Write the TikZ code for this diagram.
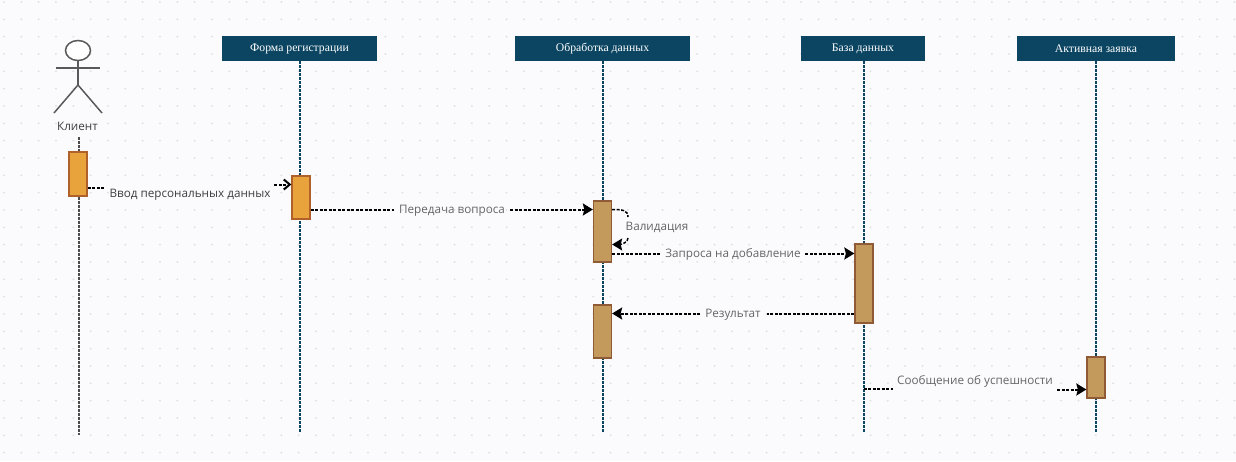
\documentclass[tikz,border=0pt]{standalone}
\usepackage{fontspec}
\setmainfont{Open Sans}
\newfontfamily\headfont{Liberation Serif}
\usetikzlibrary{arrows.meta,shapes.geometric}
\definecolor{bgc}{HTML}{FBFBFD}
\definecolor{dotc}{HTML}{DEDEE4}
\definecolor{headc}{HTML}{0B4562}
\definecolor{orc}{HTML}{E8A33D}
\definecolor{orb}{HTML}{B0602A}
\definecolor{brc}{HTML}{C49A5C}
\definecolor{brb}{HTML}{8F5B36}
\definecolor{txtc}{HTML}{666666}

\begin{document}
\begin{tikzpicture}[x=1pt,y=-1pt]
\tikzstyle{head}= [rectangle, inner sep=0pt, fill=headc, minimum height=25pt, text=white, font=\headfont\fontsize{11.7}{13}\selectfont]
\tikzstyle{act1}= [rectangle, inner sep=0pt, fill=orc, draw=orb, line width=1.3pt, minimum width=18pt]
\tikzstyle{act2}= [rectangle, inner sep=0pt, fill=brc, draw=brb, line width=1.3pt, minimum width=18pt]
\tikzstyle{lab}= [inner sep=0pt, text=txtc, font=\fontsize{11.7}{14}\selectfont]
\tikzstyle{lifeline}= [headc, line width=2pt, dash pattern=on 3pt off 1pt]
\tikzstyle{msg}= [black, line width=2pt, dash pattern=on 3pt off 1.5pt]
\tikzstyle{arr}= [-{Stealth[length=10pt,width=12pt,inset=1.5pt]}]
\tikzstyle{actorline}= [draw=black!65, line width=1.5pt]
\useasboundingbox (0,0) rectangle (1236,461);
\fill[bgc] (0,0) rectangle (1236,461);
%grid
\foreach \i in {0,...,71}
  \foreach \j in {0,...,26}
    \fill[dotc] (4+17.33*\i,2+17.33*\j) circle (1pt);
%actor
\node[draw=black!65, line width=1.5pt, fill=white, ellipse, inner sep=0pt, minimum width=25pt, minimum height=20pt] (hd) at (78,50.5) {};
\coordinate (hip) at (78,85);
\coordinate (armL) at (56,68);
\coordinate (armR) at (100,68);
\coordinate (legL) at (54,113);
\coordinate (legR) at (102,113);
\draw[actorline] (hd) -- (hip);
\draw[actorline] (armL) -- (armR);
\draw[actorline] (legL) -- (hip) -- (legR);
\node[lab, text=black!75] (client) at (77.5,126) {Клиент};
%heads
\node[head, minimum width=155pt] (form) at (299.5,48.5) {Форма регистрации};
\node[head, minimum width=175pt] (proc) at (602.5,48.5) {Обработка данных};
\node[head, minimum width=124pt] (base) at (863,48.5) {База данных};
\node[head, minimum width=158pt] (task) at (1096,48.5) {Активная заявка};
%lifelines
\coordinate (c0) at (78.5,137);
\coordinate (c0e) at (78.5,435);
\coordinate (f1) at (299.5,433);
\coordinate (p1) at (602.5,433);
\coordinate (b1) at (863.5,433);
\coordinate (t1) at (1095.5,433);
\draw[black!70, line width=2pt, dash pattern=on 3pt off 1pt] (c0) -- (c0e);
\draw[lifeline] (form.south -| f1) -- (f1);
\draw[lifeline] (proc.south -| p1) -- (p1);
\draw[lifeline] (base.south -| b1) -- (b1);
\draw[lifeline] (task.south -| t1) -- (t1);
%activations
\node[act1, minimum height=44pt] (a1) at (78,174) {};
\node[act1, minimum height=43pt] (a2) at (301,197.5) {};
\node[act2, minimum height=61pt] (a3) at (602.5,231.5) {};
\node[act2, minimum height=53pt] (a4) at (602.5,331.5) {};
\node[act2, minimum height=79pt] (a5) at (864,283.5) {};
\node[act2, minimum height=41pt] (a6) at (1096,377.5) {};
%1
\node[lab, text=black!75] (l1) at (190,194.5) {Ввод персональных данных};
\coordinate (m1a) at (105,187.5);
\coordinate (m1b) at (274,184.5);
\draw[msg] (a1.east |- m1a) -- (m1a);
\draw[msg, -{Straight Barb[length=6pt,width=10pt]}] (m1b) -- (a2.west |- m1b);
%2
\node[lab, inner xsep=5pt] (l2) at (452,210.5) {Передача вопроса};
\coordinate (m2) at (310,209.5);
\draw[msg] (a2.east |- m2) -- (l2.west |- m2);
\draw[msg, arr] (l2.east |- m2) -- (a3.west |- m2);
%3
\node[lab] (l3) at (657,227.5) {Валидация};
\coordinate (m3a) at (611,209.5);
\coordinate (m3b) at (628,217);
\coordinate (m3c) at (628,238);
\coordinate (m3d) at (611,244.5);
\draw[msg, line width=1.5pt] (a3.east |- m3a) .. controls (622,209.5) and (628,210) .. (m3b);
\draw[msg, line width=1.5pt, arr] (m3c) .. controls (628,242) and (622,244.5) .. (a3.east |- m3d);
%4
\node[lab] (l4) at (733,254) {Запроса на добавление};
\coordinate (m4a) at (660,253.5);
\coordinate (m4b) at (805,253.5);
\draw[msg] (a3.east |- m4a) -- (m4a);
\draw[msg, arr] (m4b) -- (a5.west |- m4b);
%5
\node[lab] (l5) at (733,314.5) {Результат};
\coordinate (m5a) at (767,313.5);
\coordinate (m5b) at (700,313.5);
\draw[msg] (a5.west |- m5a) -- (m5a);
\draw[msg, arr] (m5b) -- (a4.east |- m5b);
%6
\node[lab] (l6) at (975,381.5) {Сообщение об успешности};
\coordinate (m6) at (863.5,388.5);
\coordinate (m6a) at (893,388.5);
\coordinate (m6b) at (1057,389.5);
\draw[msg] (m6) -- (m6a);
\draw[msg, arr] (m6b) -- (a6.west |- m6b);
\end{tikzpicture}
\end{document}
